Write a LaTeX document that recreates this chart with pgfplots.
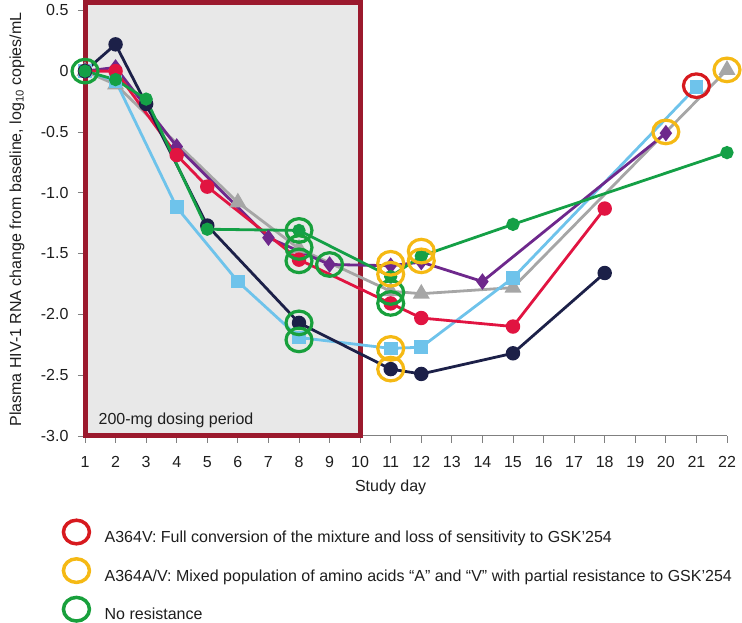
\documentclass[border=0pt]{standalone}
\usepackage{fontspec}
\setmainfont{Liberation Sans}
\usepackage{pgfplots}
\pgfplotsset{compat=1.18}
\definecolor{navy}{RGB}{28,32,72}
\definecolor{crim}{RGB}{225,20,65}
\definecolor{purp}{RGB}{110,40,140}
\definecolor{gry}{RGB}{166,166,166}
\definecolor{lblue}{RGB}{110,195,235}
\definecolor{grn}{RGB}{20,160,70}
\definecolor{ringred}{RGB}{215,25,30}
\definecolor{ringyel}{RGB}{245,185,20}
\definecolor{ringgrn}{RGB}{24,160,60}
\definecolor{boxred}{RGB}{155,25,45}
\definecolor{boxgray}{RGB}{232,232,232}
\definecolor{axisgray}{RGB}{128,128,128}
\definecolor{txt}{RGB}{30,30,30}
\begin{document}
\begin{tikzpicture}[x=1pt,y=1pt]
\useasboundingbox (0,0) rectangle (742,623);
\begin{axis}[
  at={(85pt,187pt)}, anchor=south west,
  width=642pt, height=433pt, scale only axis,
  xmin=1, xmax=22, ymin=-3, ymax=0.56,
  axis lines=left,
  axis line style={-, draw=axisgray, line width=1pt},
  xtick={1,...,22},
  ytick={-3,-2.5,-2,-1.5,-1,-0.5,0,0.5},
  yticklabels={-3.0,-2.5,-2.0,-1.5,-1.0,-0.5,0,0.5},
  tick align=outside, major tick length=7pt,
  tick style={draw=axisgray, line width=0.8pt},
  /pgf/number format/assume math mode=true,
  ticklabel style={font=\fontsize{16}{19}\selectfont, text=txt},
  xticklabel style={yshift=-10pt},
  yticklabel style={xshift=-6pt},
  xlabel={Study day},
  ylabel={Plasma HIV-1 RNA change from baseline, log\textsubscript{10} copies/mL},
  label style={font=\fontsize{16}{19}\selectfont, text=txt},
  xlabel style={at={(axis description cs:0.476,-0.118)}, anchor=center},
  ylabel style={at={(axis description cs:-0.106,0.5)}, anchor=center},
  clip=false,
  legend style={at={(axis description cs:-0.0366,-0.19)}, anchor=north west,
    draw=none, fill=none, inner sep=0pt, row sep=11pt,
    font=\fontsize{16}{19}\selectfont, text=txt},
  legend cell align=left,
]
\draw[draw=boxred, line width=5pt, fill=boxgray] (axis cs:1,-3) rectangle (axis cs:10,0.56);
\node[anchor=west, font=\fontsize{16}{19}\selectfont, text=txt] at (axis cs:1.33,-2.87) {200-mg dosing period};

% grey triangles
\addplot[forget plot, gry, line width=2.8pt, mark=triangle*, mark size=7pt, mark options={solid}]
 coordinates {(1,0)(2,-0.11)(6,-1.08)(8,-1.46)(11,-1.81)(12,-1.83)(15,-1.78)(22,0.01)};
% light blue squares
\addplot[forget plot, lblue, line width=2.8pt, mark=square*, mark size=5.5pt, mark options={solid}]
 coordinates {(1,0)(2,-0.08)(4,-1.12)(6,-1.73)(8,-2.19)(11,-2.28)(12,-2.27)(15,-1.70)(21,-0.13)};
% purple diamonds
\addplot[forget plot, purp, line width=2.8pt, mark=diamond*, mark size=6pt, mark options={solid}]
 coordinates {(1,0)(2,0.03)(4,-0.62)(7,-1.37)(9,-1.59)(11,-1.60)(12,-1.57)(14,-1.73)(20,-0.51)};
% red circles
\addplot[forget plot, crim, line width=2.8pt, mark=*, mark size=5.8pt, mark options={solid}]
 coordinates {(1,0)(2,0.0)(4,-0.69)(5,-0.95)(8,-1.55)(11,-1.91)(12,-2.03)(15,-2.10)(18,-1.13)};
% navy circles
\addplot[forget plot, navy, line width=2.8pt, mark=*, mark size=5.8pt, mark options={solid}]
 coordinates {(1,0)(2,0.22)(3,-0.27)(5,-1.27)(8,-2.07)(11,-2.45)(12,-2.49)(15,-2.32)(18,-1.66)};
% green circles
\addplot[forget plot, grn, line width=2.8pt, mark=*, mark size=5.2pt, mark options={solid}]
 coordinates {(1,0)(2,-0.07)(3,-0.23)(5,-1.30)(8,-1.31)(11,-1.69)(12,-1.52)(15,-1.26)(22,-0.67)};

% resistance rings
\addplot[forget plot, only marks, mark=o, mark size=11.8pt,
  mark options={draw=ringgrn, line width=3.2pt, xscale=1.1}]
 coordinates {(1,0)(8,-1.31)(8,-1.45)(8,-1.56)(9,-1.59)(8,-2.07)(8,-2.21)(11,-1.82)(11,-1.91)};
\addplot[forget plot, only marks, mark=o, mark size=11.8pt,
  mark options={draw=ringyel, line width=3.2pt, xscale=1.1}]
 coordinates {(11,-1.58)(11,-1.67)(12,-1.48)(12,-1.56)(11,-2.28)(11,-2.45)(20,-0.50)(22,0.01)};
\addplot[forget plot, only marks, mark=o, mark size=11.8pt,
  mark options={draw=ringred, line width=3.2pt, xscale=1.1}]
 coordinates {(21,-0.12)};

\addlegendimage{legend image code/.code={\draw[draw=ringred, line width=3.5pt] (13pt,5.5pt) ellipse (13pt and 11.8pt); \path (39pt,5.5pt);}}
\addlegendentry{A364V: Full conversion of the mixture and loss of sensitivity to GSK’254}
\addlegendimage{legend image code/.code={\draw[draw=ringyel, line width=3.5pt] (13pt,5.5pt) ellipse (13pt and 11.8pt); \path (39pt,5.5pt);}}
\addlegendentry{A364A/V: Mixed population of amino acids “A” and “V” with partial resistance to GSK’254}
\addlegendimage{legend image code/.code={\draw[draw=ringgrn, line width=3.5pt] (13pt,5.5pt) ellipse (13pt and 11.8pt); \path (39pt,5.5pt);}}
\addlegendentry{No resistance}
\end{axis}
\end{tikzpicture}
\end{document}
